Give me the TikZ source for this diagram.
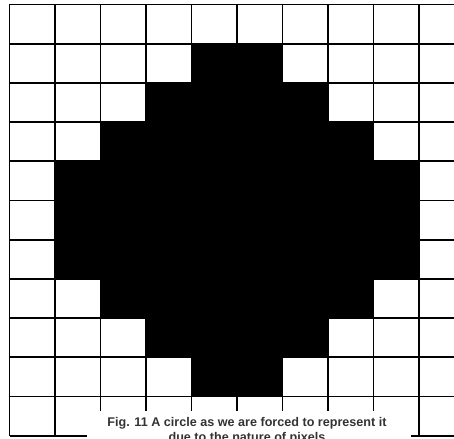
\documentclass[tikz,border=0pt]{standalone}
\usepackage{fontspec}
\setmainfont{Liberation Sans}
\begin{document}
\begin{tikzpicture}[x=1pt,y=-1pt,
  gridline/.style={line width=1.9pt, draw=black},
  captiontext/.style={font=\bfseries\fontsize{12.6}{14.2}\selectfont, text=black!80, inner sep=0pt, align=center, anchor=north}]
\useasboundingbox (0,0) rectangle (454,438);
\clip (0,0) rectangle (454,438);
\fill[white] (0,0) rectangle (454,438);
\begin{scope}[shift={(9.5,4.5)}, x=45.5pt, y=-39.2pt]
  % black pixels
  \fill[black] (4,1) -- (6,1) -- (6,2) -- (7,2) -- (7,3) -- (8,3) -- (8,4) -- (9,4)
    -- (9,7) -- (8,7) -- (8,8) -- (7,8) -- (7,9) -- (6,9) -- (6,10) -- (4,10)
    -- (4,9) -- (3,9) -- (3,8) -- (2,8) -- (2,7) -- (1,7) -- (1,4) -- (2,4)
    -- (2,3) -- (3,3) -- (3,2) -- (4,2) -- cycle;
  % grid
  \foreach \j in {0,...,11} \draw[gridline] (0,\j) -- (10,\j);
  \foreach \i in {0,...,9} \draw[gridline] (\i,0) -- (\i,11);
\end{scope}
\fill[white] (87,411) rectangle (411,440);
\node[captiontext] (cap) at (247,417.5) {Fig. 11 A circle as we are forced to represent it\\due to the nature of pixels};
\end{tikzpicture}
\end{document}
